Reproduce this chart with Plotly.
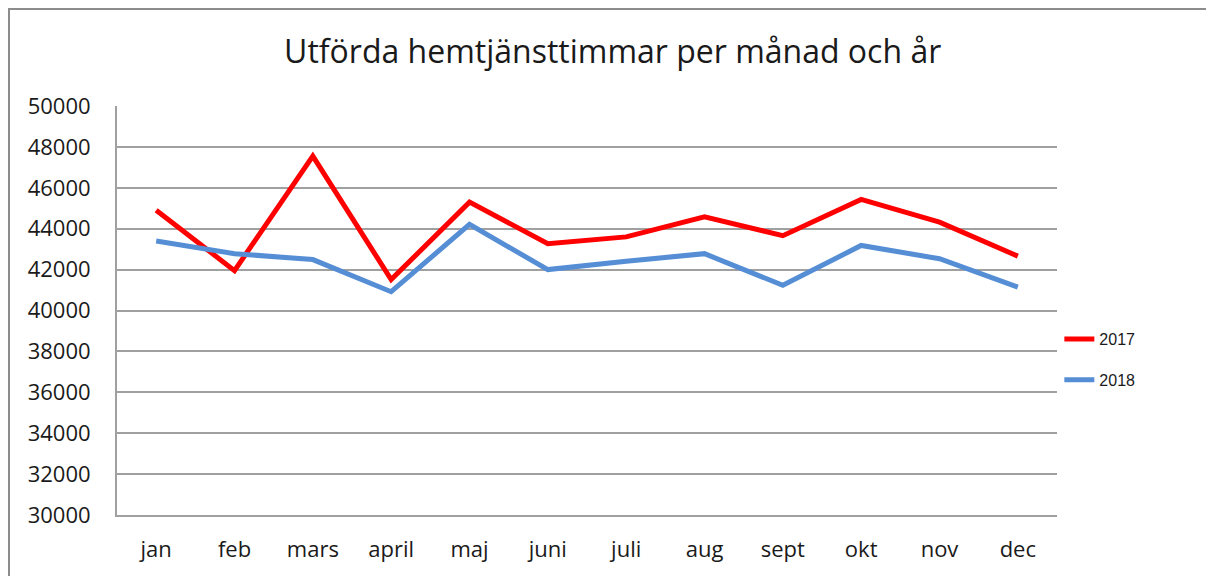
import plotly.graph_objects as go

# Monthly home-care hours, per year
months = ["jan", "feb", "mars", "april", "maj", "juni", "juli", "aug", "sept", "okt", "nov", "dec"]
hours_2017 = [44900, 41950, 47550, 41510, 45300, 43270, 43600, 44580, 43660, 45430, 44320, 42660]
hours_2018 = [43400, 42780, 42490, 40920, 44210, 42000, 42410, 42780, 41230, 43180, 42530, 41140]
y_ticks = list(range(30000, 50001, 2000))

fig = go.Figure()
fig.add_trace(go.Scatter(
    x=months, y=hours_2017, name="2017", mode="lines", legendgroup="a",
    line=dict(color="#FF0000", width=5),
))
fig.add_trace(go.Scatter(
    x=months, y=hours_2018, name="2018", mode="lines", legendgroup="b",
    line=dict(color="#558ED5", width=5),
))

# outer chart frame
fig.add_shape(type="rect", xref="paper", yref="paper",
              x0=-0.1149, x1=1.25, y0=-0.3, y1=1.237,
              line=dict(color="#8c8c8c", width=2), layer="below")

fig.update_layout(
    width=1206, height=576,
    margin=dict(l=117, r=149, t=106, b=61),
    paper_bgcolor="white", plot_bgcolor="white",
    font=dict(family="Open Sans", color="#1a1a1a"),
    title=dict(text="Utförda hemtjänsttimmar per månad och år",
               x=0.508, xref="container", xanchor="center",
               y=1 - 52 / 576, yref="container", yanchor="middle",
               font=dict(size=32, family="Open Sans", color="#1a1a1a")),
    legend=dict(x=1.0025, xanchor="left", y=0.38, yanchor="middle",
                font=dict(size=16, family="Liberation Sans", color="#1a1a1a"),
                tracegroupgap=17, bgcolor="rgba(0,0,0,0)"),
    xaxis=dict(range=[-0.5, 11.5], showgrid=False, showline=True,
               linecolor="#a0a0a0", linewidth=2, ticks="",
               tickfont=dict(size=22), ticklabelstandoff=14),
    yaxis=dict(range=[30000, 50000], tickvals=y_ticks, tickformat="d",
               showgrid=True, gridcolor="#a0a0a0", gridwidth=2,
               showline=True, linecolor="#a0a0a0", linewidth=2, ticks="",
               zeroline=False, tickfont=dict(size=22), ticklabelstandoff=20),
)

fig.write_html("out.html")
